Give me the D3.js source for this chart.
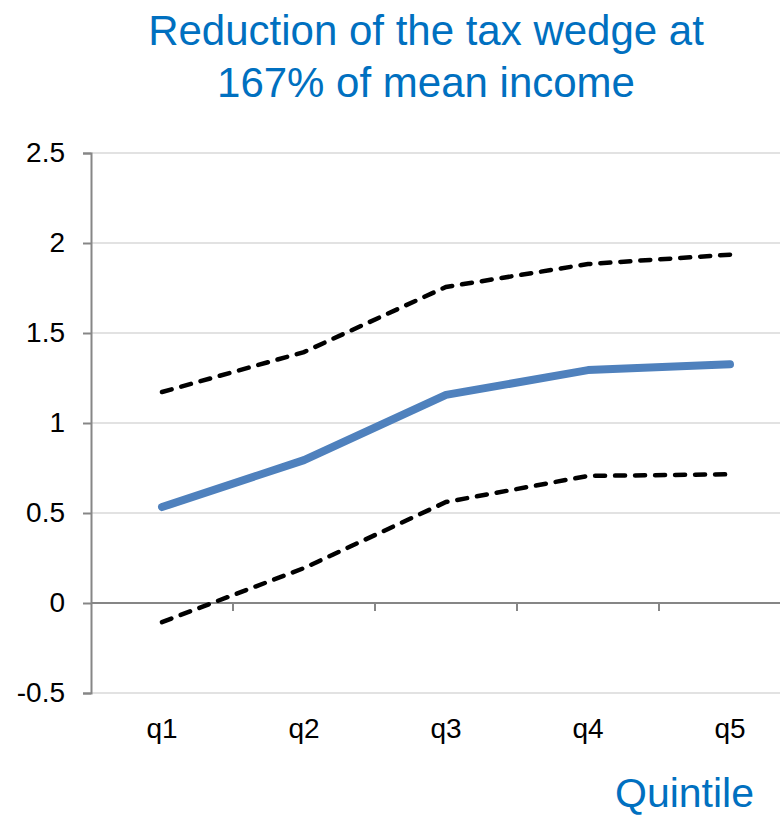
<!DOCTYPE html>
<html>
<head>
<meta charset="utf-8">
<script src="https://cdn.jsdelivr.net/npm/d3@7/dist/d3.min.js"></script>
<style>
  body { margin: 0; background: #fff; }
  text { font-family: "Liberation Sans", Arial, sans-serif; }
</style>
</head>
<body>
<script>
  var quintiles = ["q1", "q2", "q3", "q4", "q5"];
  var central = [0.533, 0.794, 1.156, 1.294, 1.326];
  var upper = [1.172, 1.394, 1.756, 1.883, 1.935];
  var lower = [-0.106, 0.194, 0.561, 0.706, 0.715];
  var yTicks = [-0.5, 0, 0.5, 1, 1.5, 2, 2.5];

  var width = 780, height = 815;
  var margin = {top: 153, left: 91, bottom: 122};
  // plot area runs past the right edge of the picture (clipped, as in the original)
  var plotRight = 801;

  var svg = d3.select("body").append("svg")
    .attr("width", width)
    .attr("height", height);

  var x = d3.scaleBand()
    .domain(quintiles)
    .range([margin.left, plotRight]);

  var y = d3.scaleLinear()
    .domain([-0.5, 2.5])
    .range([height - margin.bottom, margin.top]);

  // gridlines
  svg.append("g")
    .selectAll("line")
    .data(yTicks)
    .enter().append("line")
    .attr("x1", margin.left)
    .attr("x2", plotRight)
    .attr("y1", function(d) { return y(d); })
    .attr("y2", function(d) { return y(d); })
    .attr("stroke", "#d9d9d9")
    .attr("stroke-width", 1.5);

  // y axis
  var yAxis = svg.append("g")
    .attr("transform", "translate(" + margin.left + ",0)")
    .call(d3.axisLeft(y).tickValues(yTicks).tickSize(8).tickPadding(18)
      .tickFormat(function(d) { return d; }));
  yAxis.attr("font-size", null).attr("font-family", null);
  yAxis.select(".domain").attr("stroke", "#868686").attr("stroke-width", 2);
  yAxis.selectAll(".tick line").attr("stroke", "#868686").attr("stroke-width", 2);
  yAxis.selectAll(".tick text")
    .style("font-size", "28px")
    .attr("fill", "#000");

  // x axis at zero with ticks between categories
  svg.append("line")
    .attr("x1", margin.left).attr("x2", plotRight)
    .attr("y1", y(0)).attr("y2", y(0))
    .attr("stroke", "#868686").attr("stroke-width", 2);

  svg.append("g")
    .selectAll("line")
    .data(quintiles.slice(1))
    .enter().append("line")
    .attr("x1", function(d) { return x(d); })
    .attr("x2", function(d) { return x(d); })
    .attr("y1", y(0))
    .attr("y2", y(0) + 8)
    .attr("stroke", "#868686")
    .attr("stroke-width", 2);

  // category labels at the bottom
  svg.append("g")
    .selectAll("text")
    .data(quintiles)
    .enter().append("text")
    .attr("x", function(d) { return x(d) + x.bandwidth() / 2; })
    .attr("y", 738)
    .attr("text-anchor", "middle")
    .style("font-size", "28px")
    .attr("fill", "#000")
    .text(function(d) { return d; });

  var line = d3.line()
    .x(function(d, i) { return x(quintiles[i]) + x.bandwidth() / 2; })
    .y(function(d) { return y(d); });

  // confidence bands
  [upper, lower].forEach(function(s) {
    svg.append("path")
      .attr("d", line(s))
      .attr("fill", "none")
      .attr("stroke", "#000")
      .attr("stroke-width", 4.5)
      .attr("stroke-linecap", "round")
      .attr("stroke-dasharray", "10,10");
  });

  svg.append("path")
    .attr("d", line(central))
    .attr("fill", "none")
    .attr("stroke", "#4f81bd")
    .attr("stroke-width", 8)
    .attr("stroke-linecap", "round")
    .attr("stroke-linejoin", "round");

  // title
  var title = svg.append("text")
    .attr("text-anchor", "middle")
    .style("font-size", "42px")
    .attr("fill", "#0070c0");
  title.append("tspan").attr("x", 426).attr("y", 45).text("Reduction of the tax wedge at");
  title.append("tspan").attr("x", 426).attr("y", 97).text("167% of mean income");

  svg.append("text")
    .attr("x", 754)
    .attr("y", 807)
    .attr("text-anchor", "end")
    .style("font-size", "41px")
    .attr("fill", "#0070c0")
    .text("Quintile");
</script>
</body>
</html>
